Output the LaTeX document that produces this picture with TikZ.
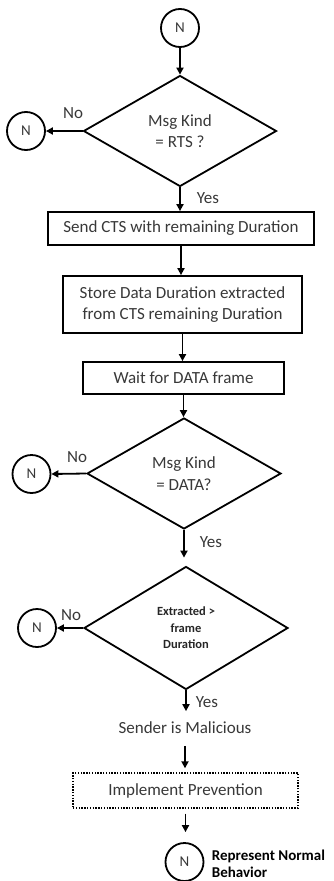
\documentclass[tikz,border=0pt]{standalone}
\usepackage{fontspec}
\setmainfont{Carlito}
\usetikzlibrary{shapes.geometric,arrows.meta}
\begin{document}
\begin{tikzpicture}[x=1pt,y=-1pt,
  line width=1.8pt,
  txt/.style={text=black!78,font=\fontsize{17}{21.5}\selectfont},
  conn/.style={circle,draw,minimum size=38pt,inner sep=0pt,txt,font=\fontsize{15}{18}\selectfont},
  dec/.style={diamond,draw,inner sep=0pt,align=center,txt},
  proc/.style={rectangle,draw,inner sep=0pt,align=center,txt},
  plain/.style={inner sep=4pt,align=center,txt},
  lbl/.style={inner sep=0pt,txt},
  arr/.style={-{Triangle[length=7pt,width=7pt]}},
  dotbox/.style={proc,line width=1.4pt,dash pattern=on 1.4pt off 1.4pt}
]
\useasboundingbox (0,0) rectangle (333,881);

\node[conn] (n0) at (180,28) {N};
\node[dec, minimum width=193pt, minimum height=111pt] (d1) at (180,131) {Msg Kind\\= RTS ?};
\node[conn] (n1) at (26,131) {N};
\node[proc, minimum width=266pt, minimum height=33pt] (b1) at (181,228.5) {Send CTS with remaining Duration};
\node[proc, minimum width=239pt, minimum height=57pt] (b2) at (182.5,304.5) {Store Data Duration extracted\\from CTS remaining Duration};
\node[proc, minimum width=201pt, minimum height=32pt] (b3) at (183.5,378) {Wait for DATA frame};
\node[dec, minimum width=194pt, minimum height=111pt] (d2) at (184,473.5) {Msg Kind\\= DATA?};
\node[conn] (n2) at (31.5,474) {N};
\node[dec, minimum width=204pt, minimum height=123pt, font=\fontsize{12.5}{16.5}\selectfont\bfseries, text=black!85] (d3) at (186,628) {Extracted >\\frame\\Duration};
\node[conn] (n3) at (37,628) {N};
\node[plain] (mal) at (185,728) {Sender is Malicious};
\node[dotbox, minimum width=225pt, minimum height=35pt] (prev) at (185.5,790.5) {Implement Prevention};
\node[conn] (n4) at (184.5,862) {N};
\node[anchor=west, align=left, inner sep=0pt, font=\fontsize{15}{17}\selectfont\bfseries] (leg) at (211,863.5) {Represent Normal\\Behavior};

\node[lbl] (no1) at (73,113) {No};
\node[lbl] (no2) at (77,457) {No};
\node[lbl] (no3) at (71,615) {No};
\node[lbl] (yes1) at (208,198) {Yes};
\node[lbl] (yes2) at (211,542) {Yes};
\node[lbl] (yes3) at (207,702) {Yes};

\draw[arr] (n0.south) -- (n0.south |- d1.north);
\draw[arr] (d1.west) -- (n1.east);
\draw[arr] (d1.south) -- (d1.south |- b1.north);
\draw[arr] (b1.south) -- (b1.south |- b2.north);
\draw[arr] (b2.south) -- (b2.south |- b3.north);
\draw[arr] (b3.south) -- (b3.south |- d2.north);
\draw[arr] (d2.west) -- (n2.east);
\draw[arr, shorten >=8pt] (d2.south) -- (d2.south |- d3.north);
\draw[arr] (d3.west) -- (n3.east);
\draw[arr, shorten >=6pt] (d3.south) -- (d3.south |- mal.north);
\draw[arr, shorten <=7pt, shorten >=4pt] (mal.south) -- (mal.south |- prev.north);
\draw[arr, shorten <=5pt, shorten >=10pt] (prev.south) -- (prev.south |- n4.north);
\end{tikzpicture}
\end{document}
